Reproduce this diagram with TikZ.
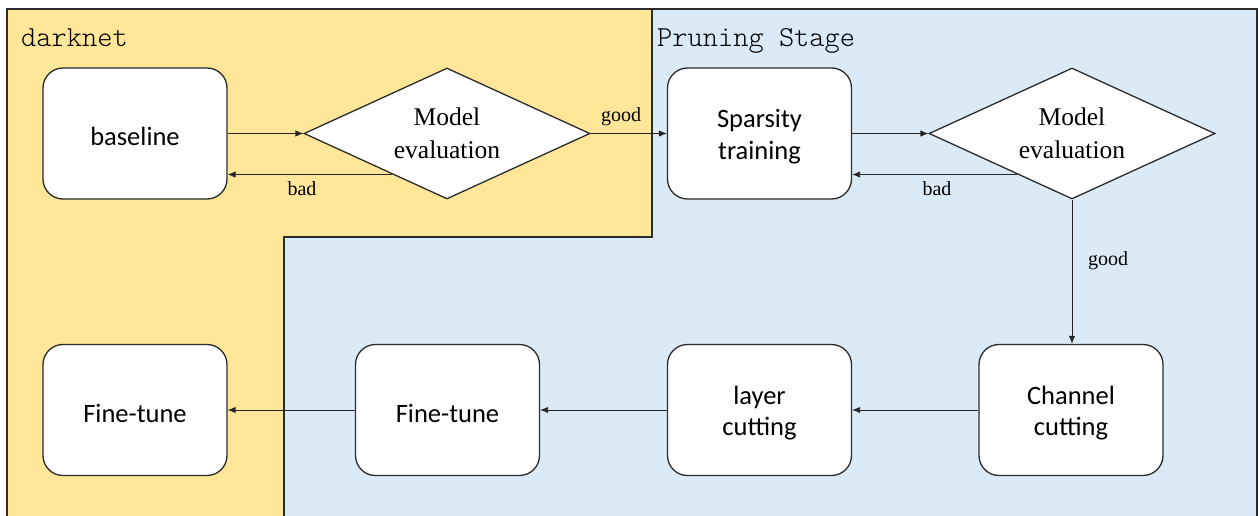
\documentclass[tikz,border=0pt]{standalone}
\usepackage{fontspec}
\newfontfamily\boxfont{Carlito}
\newfontfamily\labfont{Liberation Serif}
\newfontfamily\titlefont{Latin Modern Mono Light}
\usetikzlibrary{shapes.geometric,arrows.meta,calc}
\definecolor{zoneA}{HTML}{FFE699}
\definecolor{zoneB}{HTML}{DAEBF7}
\definecolor{edge}{HTML}{2B2B2B}

\begin{document}
\begin{tikzpicture}[x=1pt,y=-1pt,
  stepbox/.style={draw=edge,line width=1.3pt,fill=white,rounded corners=20pt,
    minimum width=184pt,minimum height=131pt,inner sep=0pt},
  boxtext/.style={inner sep=0pt,align=center,yshift=-3pt,
    font=\boxfont\fontsize{26.5}{31.5}\selectfont},
  decision/.style={diamond,draw=edge,line width=1.3pt,fill=white,
    minimum width=286pt,minimum height=131pt,inner sep=0pt,aspect=2.18,
    align=center,font=\labfont\fontsize{25.5}{32.5}\selectfont},
  flow/.style={-{Latex[length=8pt,width=6.5pt]},line width=0.9pt,draw=black!85},
  tag/.style={font=\labfont\fontsize{20}{24}\selectfont,inner sep=0pt},
  zonetitle/.style={font=\titlefont\fontsize{29}{34}\selectfont,inner sep=0pt,anchor=base west}]

\useasboundingbox (0,0) rectangle (1259,516);

% two stage areas
\fill[zoneB] (7,9) rectangle (1257,516);
\fill[zoneA] (7,9) -- (652,9) -- (652,237) -- (284,237) -- (284,516) -- (7,516) -- cycle;
\draw[edge,line width=1.5pt] (7,520) -- (7,9) -- (1257,9) -- (1257,520);
\draw[edge,line width=1.5pt] (652,9) -- (652,237) -- (284,237) -- (284,520);

\node[zonetitle] (tdark) at (21,47) {darknet};
\node[zonetitle] (tprune) at (657,47) {Pruning Stage};

% steps
\node[stepbox] (base) at (135,133.5) {};
\node[boxtext] (base-t) at (base) {baseline};
\node[decision] (eval1) at (447,133.5) {Model\\evaluation};
\node[stepbox] (sparse) at (759.5,133.5) {};
\node[boxtext] (sparse-t) at (sparse) {Sparsity\\training};
\node[decision] (eval2) at (1072,133.5) {Model\\evaluation};
\node[stepbox] (chan) at (1071,410) {};
\node[boxtext] (chan-t) at (chan) {Channel\\cutting};
\node[stepbox] (layer) at (759.5,410) {};
\node[boxtext] (layer-t) at (layer) {layer\\cutting};
\node[stepbox] (tune1) at (447.5,410) {};
\node[boxtext] (tune1-t) at (tune1) {Fine-tune};
\node[stepbox] (tune0) at (135,410) {};
\node[boxtext] (tune0-t) at (tune0) {Fine-tune};

% connectors
\draw[flow] (base) -- (eval1);
\coordinate (b1) at ($(eval1.west)!0.62!(eval1.south)$);
\draw[flow] (b1) -- (b1 -| base.east);
\node[tag] (bad1) at (302,189) {bad};

\draw[flow] (eval1) -- (sparse);
\node[tag] (good1) at (621,117) {good};

\draw[flow] (sparse) -- (eval2);
\coordinate (b2) at ($(eval2.west)!0.62!(eval2.south)$);
\draw[flow] (b2) -- (b2 -| sparse.east);
\node[tag] (bad2) at (937,189) {bad};

\draw[flow] (eval2.south) -- (eval2.south |- chan.north);
\node[tag] (good2) at (1108,261) {good};

\draw[flow] (chan) -- (layer);
\draw[flow] (layer) -- (tune1);
\draw[flow] (tune1) -- (tune0);
\end{tikzpicture}
\end{document}
